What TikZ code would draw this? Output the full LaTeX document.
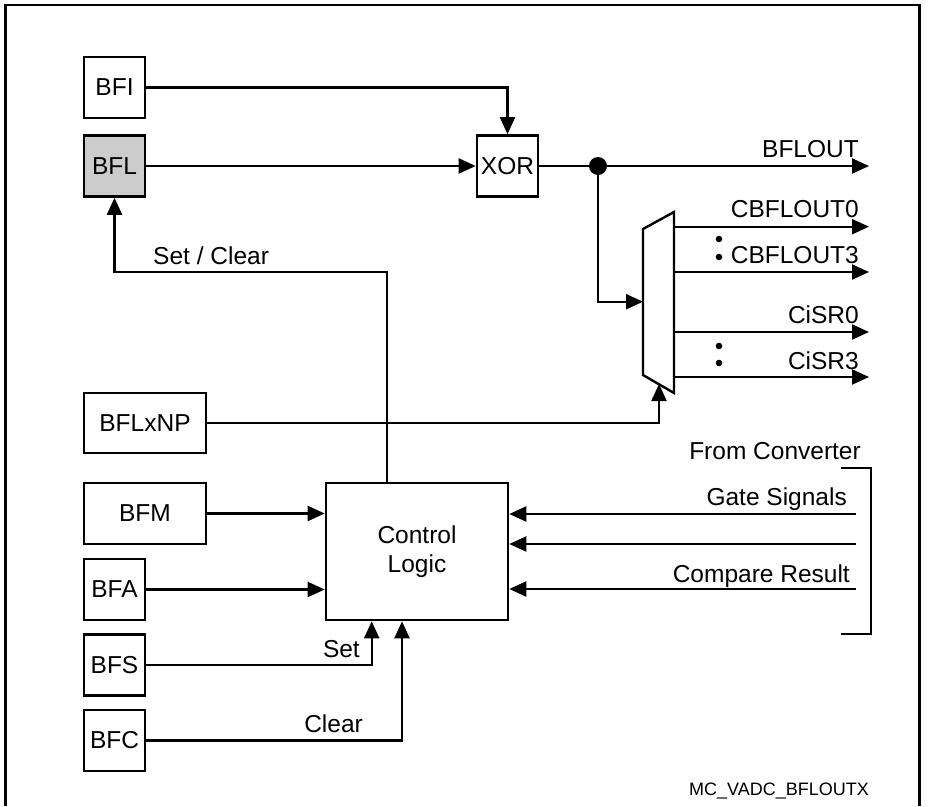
\documentclass[tikz,border=0pt]{standalone}
\usepackage{fontspec}
\setmainfont{Liberation Sans}
\usetikzlibrary{positioning,arrows.meta,calc}
\tikzset{
  reg/.style={draw,line width=2.6pt,minimum width=61pt,minimum height=61pt,inner sep=0pt},
  wreg/.style={reg,minimum width=122pt},
  wire/.style={line width=2.2pt},
  sig/.style={wire,-{Triangle[length=17pt,width=15pt]}},
  jdot/.style={circle,fill,inner sep=0pt,minimum size=18pt},
  lab/.style={inner sep=0pt,anchor=base east},
  frame/.style={line width=2.8pt}
}
\begin{document}
\begin{tikzpicture}[x=1pt,y=-1pt,font=\fontsize{24.5}{29}\selectfont]
  \useasboundingbox (0,0) rectangle (928,806);
  \draw[frame] (5.5,806) |- (919.5,5) -- (919.5,806);
  % registers
  \node[reg,fill=gray!40] (BFL) at (114.5,166) {BFL};
  \node[reg,above=15pt of BFL] (BFI) {BFI};
  \node[reg] (XOR) at (507.5,166) {XOR};
  \node[wreg,minimum height=60pt] (BFLxNP) at (145,423) {BFLxNP};
  \node[wreg] (BFM) at (145,513.5) {BFM};
  \node[reg] (BFA) at (114.5,589.5) {BFA};
  \node[reg] (BFS) at (114.5,665) {BFS};
  \node[reg] (BFC) at (114.5,740.5) {BFC};
  \node[reg,minimum width=182pt,minimum height=137pt,align=center] (ctrl) at (417,551.5) {Control\\Logic};
  % mux
  \draw[line width=2.4pt] (643,229) -- (674,212) -- (674,393) -- (643,375) -- cycle;
  \coordinate (muxin) at (643,301.7); \coordinate (muxsel) at (659,384);
  \node[jdot] (jn) at (598,166) {};
  \coordinate (bflout) at (869,166);
  \coordinate (o0) at (869,226.7); \coordinate (o3) at (869,272);
  \coordinate (s0) at (869,332); \coordinate (s3) at (869,377);
  \draw[sig] (BFI.east) -| (XOR.north);
  \draw[sig] (BFL.east) -- (XOR.west);
  \draw[wire] (XOR.east) -- (jn);
  \draw[sig] (jn) -- (bflout);
  \draw[sig] (jn) |- (muxin);
  \draw[sig] (o0 -| 674,0) -- (o0); \draw[sig] (o3 -| 674,0) -- (o3);
  \draw[sig] (s0 -| 674,0) -- (s0); \draw[sig] (s3 -| 674,0) -- (s3);
  \foreach \y in {239,257,346,363} \fill (719,\y) circle (3.3);
  \node[lab] (lbflout) at (859,157) {BFLOUT};
  \node[lab] (lo0) at (859,217) {CBFLOUT0}; \node[lab] (lo3) at (859,263) {CBFLOUT3};
  \node[lab] (ls0) at (859,323) {CiSR0}; \node[lab] (ls3) at (859,369) {CiSR3};
  \draw[sig] (BFLxNP.east) -| (muxsel);
  % control logic
  \coordinate (sc) at ($(ctrl.north)+(-30.3,0)$); \coordinate (scturn) at (114.5,272);
  \draw[sig] (sc) |- (scturn) -- (BFL.south);
  \node[inner sep=0pt,anchor=base west] (lsc) at (153,264) {Set / Clear};
  \draw[sig] (BFM.east) -- (BFM.east -| ctrl.west);
  \draw[sig] (BFA.east) -- (BFA.east -| ctrl.west);
  \draw[sig] (BFS.east) -| ($(ctrl.south)+(-45.3,0)$);
  \draw[sig] (BFC.east) -| ($(ctrl.south)+(-15,0)$);
  \node[lab] (lset) at (360,657) {Set}; \node[lab] (lclr) at (363,732) {Clear};
  % from converter
  \coordinate (g0) at (856,514); \coordinate (g1) at (856,544); \coordinate (g2) at (856,589);
  \draw[sig] (g0) -- (g0 -| ctrl.east); \draw[sig] (g1) -- (g1 -| ctrl.east); \draw[sig] (g2) -- (g2 -| ctrl.east);
  \draw[wire] (841,468) -| (870.7,634) -- (841,634);
  \node[lab] (lfc) at (861,459) {From Converter};
  \node[lab] (lgs) at (847,505) {Gate Signals};
  \node[lab] (lcr) at (850,582) {Compare Result};
  \node[lab,font=\fontsize{18}{21}\selectfont] (lid) at (869,795) {MC\_VADC\_BFLOUTX};
\end{tikzpicture}
\end{document}
